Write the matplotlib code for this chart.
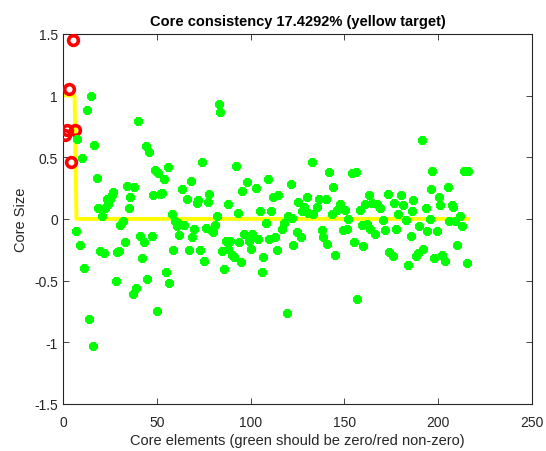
import matplotlib
matplotlib.use('agg')
import matplotlib.pyplot as plt
import numpy as np

plt.rcParams['font.family'] = ['Liberation Sans', 'DejaVu Sans']

# Target (yellow): ones on the superdiagonal, zeros elsewhere, 6x6x6 core
n_comp = 6
n_elem = 216
target = [1] * n_comp + [0] * (n_elem - n_comp)

# Superdiagonal core values (red circles)
red_y = [0.68, 0.72, 1.05, 0.46, 1.45, 0.72]

# Off-diagonal core values (green)
green_pts = [
    (7.5, 0.65), (9.8, 0.49), (6.8, -0.10), (8.9, -0.21), (11.2, -0.40),
    (12.8, 0.88), (14.6, 1.00), (13.9, -0.81), (15.7, -1.03), (16.6, 0.60),
    (18.2, 0.33), (18.7, 0.09), (20.8, 0.02), (19.6, -0.26), (21.9, -0.28),
    (22.3, 0.09), (23.1, 0.16), (24.0, 0.12), (24.9, 0.16), (25.8, 0.19),
    (26.3, 0.22), (28.1, -0.50), (28.5, -0.27), (29.9, -0.26), (30.3, -0.05),
    (31.7, -0.02), (32.9, -0.19), (34.2, 0.27), (35.6, 0.18), (35.2, 0.09),
    (37.7, 0.26), (37.0, -0.61), (38.8, -0.56), (39.7, 0.79), (41.0, -0.14),
    (41.9, -0.32), (43.1, -0.19), (44.0, 0.59), (45.8, 0.54), (44.9, -0.49),
    (47.2, -0.14), (48.0, 0.19), (48.9, 0.40), (49.8, -0.75), (50.7, 0.37),
    (51.6, 0.20), (52.9, 0.21), (53.7, 0.32), (54.8, -0.43), (56.0, 0.42),
    (56.6, -0.52), (57.8, 0.04), (58.7, -0.25), (59.6, -0.02), (60.5, -0.06),
    (61.4, -0.03), (61.9, -0.13), (63.2, 0.24), (64.4, -0.05), (65.8, 0.16),
    (67.1, -0.25), (68.1, 0.31), (68.9, -0.15), (69.9, -0.08), (71.2, 0.13),
    (71.7, 0.15), (73.0, -0.25), (74.2, 0.46), (75.1, -0.34), (76.2, -0.07),
    (77.1, 0.14), (78.0, 0.20), (78.7, -0.09), (80.1, -0.11), (81.0, -0.05),
    (81.9, 0.02), (83.1, 0.93), (83.6, 0.87), (84.5, -0.26), (85.9, -0.41),
    (86.8, -0.18), (87.7, 0.12), (88.0, -0.24), (89.0, -0.18), (89.8, -0.29),
    (91.3, -0.31), (92.0, 0.43), (93.1, 0.05), (94.0, -0.19), (94.9, -0.35),
    (95.6, 0.23), (96.5, -0.12), (97.9, 0.30), (99.3, -0.18),
    (100.0, -0.24), (100.5, -0.12), (102.8, 0.25), (104.9, 0.06), (104.0, -0.16),
    (106.8, -0.31), (106.2, -0.43), (108.0, -0.03), (109.4, 0.32), (110.8, 0.06),
    (109.8, -0.16), (113.0, -0.15), (111.7, 0.18), (114.7, 0.19), (113.9, -0.25),
    (116.5, -0.08), (117.9, -0.03), (119.2, -0.76), (119.7, 0.02), (121.3, 0.28),
    (122.8, -0.21), (122.2, 0.01), (124.5, -0.11), (126.7, -0.15), (125.4, 0.14),
    (127.2, 0.06), (128.4, 0.10), (129.9, 0.18), (130.8, 0.05), (132.5, 0.46),
    (133.4, 0.04), (135.2, 0.10), (136.4, 0.16), (137.9, -0.09), (138.8, -0.15),
    (140.5, -0.20), (140.0, 0.16), (141.9, 0.38), (143.7, 0.26), (143.2, 0.04),
    (144.9, -0.29), (146.2, 0.07), (147.6, 0.12), (149.0, -0.09), (151.2, -0.08),
    (150.3, 0.07), (152.1, 0.00), (153.8, 0.37), (156.1, 0.38), (154.9, -0.19),
    (156.8, -0.65), (158.3, 0.07), (160.0, -0.22), (159.5, -0.05), (162.0, -0.04),
    (163.8, -0.08), (161.0, 0.12), (162.9, 0.19), (164.7, 0.13), (166.4, -0.12),
    (167.3, 0.12), (169.0, 0.09), (170.5, -0.01), (171.7, -0.09), (173.1, 0.20),
    (174.0, -0.27), (175.8, -0.30), (176.2, 0.13), (177.4, -0.08), (178.8, 0.04),
    (180.1, 0.19), (181.5, 0.11), (182.9, -0.01), (184.1, -0.37), (185.5, -0.14),
    (186.8, 0.15), (186.0, 0.06), (188.0, -0.30), (189.4, -0.28), (189.8, -0.06),
    (191.2, 0.64), (192.1, -0.24), (193.3, 0.09), (194.2, -0.10), (195.6, 0.00),
    (196.9, 0.39), (196.2, 0.24), (197.9, -0.32), (199.2, -0.10), (200.4, 0.18),
    (201.0, 0.11), (201.9, -0.29), (203.7, -0.34), (205.1, 0.26), (205.8, -0.02),
    (207.3, 0.11), (208.2, 0.10), (209.1, -0.02), (210.3, -0.21), (211.7, 0.02),
    (213.0, -0.06), (213.9, 0.39), (216.0, 0.39), (215.6, -0.36),
]
green_x = [p[0] for p in green_pts]
green_y = [p[1] for p in green_pts]

core_cons = 17.4292

fig = plt.figure(figsize=(5.46, 4.52), dpi=100)
ax = fig.add_axes([0.116, 0.104, 0.858, 0.819])

x_all = np.arange(1, n_elem + 1)
ax.plot(x_all, target, color=(1, 1, 0), linewidth=2.8, zorder=2)
ax.plot(np.arange(1, n_comp + 1), red_y, linestyle='none', marker='o',
        markersize=7, markerfacecolor='none', markeredgecolor='red',
        markeredgewidth=2.6, zorder=3)
ax.plot(green_x, green_y, linestyle='none', marker=(8, 2, 0),
        markersize=6, markeredgecolor=(0, 1, 0), markeredgewidth=2.4,
        zorder=4)

ax.set_xlim(0, 250)
ax.set_ylim(-1.5, 1.5)
ax.set_xticks([0, 50, 100, 150, 200, 250])
ax.set_yticks([-1.5, -1, -0.5, 0, 0.5, 1, 1.5])
ax.set_yticklabels(['-1.5', '-1', '-0.5', '0', '0.5', '1', '1.5'])

axc = (0.15, 0.15, 0.15)
for s in ax.spines.values():
    s.set_color(axc)
    s.set_linewidth(0.8)
ax.tick_params(direction='in', top=True, right=True, length=4, width=0.6,
               colors=axc, labelsize=10, pad=4)
ax.tick_params(axis='x', pad=8)

ax.set_title(f"Core consistency {core_cons}% (yellow target)",
             fontsize=10.5, fontweight='bold', color='black', pad=6)
ax.set_xlabel("Core elements (green should be zero/red non-zero)",
              fontsize=10.5, color=axc, labelpad=3)
ax.set_ylabel("Core Size", fontsize=10.5, color=axc, labelpad=4)

fig.savefig('out.png', dpi=100)
